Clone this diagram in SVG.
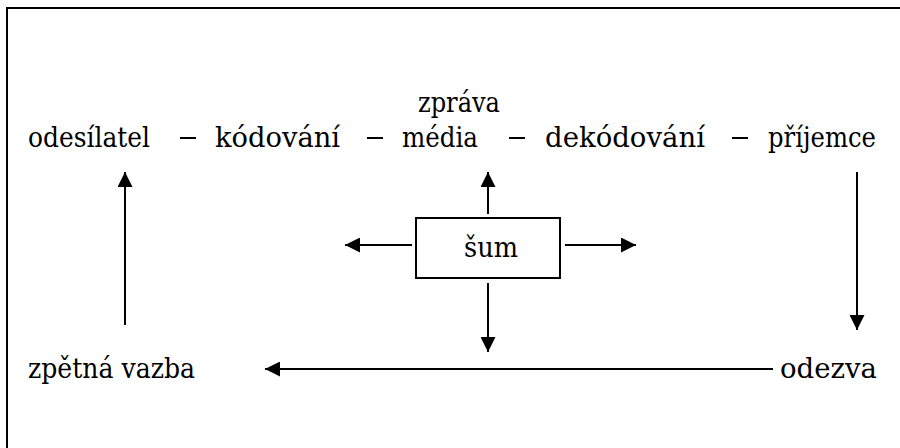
<svg xmlns="http://www.w3.org/2000/svg" width="900" height="448" viewBox="0 0 900 448">
<defs>
<style>
.ln{stroke:#000;stroke-width:2;fill:none}
.t text{font-family:"DejaVu Serif","Liberation Serif",serif;font-size:27px;fill:#000}
</style>
<marker id="ah" viewBox="0 0 10 10" refX="10" refY="5" markerWidth="15" markerHeight="15" markerUnits="userSpaceOnUse" orient="auto">
<path d="M0,0 L10,5 L0,10 z" fill="#000"/>
</marker>
</defs>
<rect width="900" height="448" fill="#fff"/>
<path d="M7,448 V8 H900" class="ln"/>
<g class="t">
<g id="zprava"><text x="418" y="112" textLength="82" lengthAdjust="spacingAndGlyphs">zpráva</text></g>
<g id="odesilatel"><text x="28" y="147" textLength="122" lengthAdjust="spacingAndGlyphs">odesílatel</text></g>
<g id="kodovani"><text x="215" y="147" textLength="125" lengthAdjust="spacingAndGlyphs">kódování</text></g>
<g id="media"><text x="402" y="147" textLength="76" lengthAdjust="spacingAndGlyphs">média</text></g>
<g id="dekodovani"><text x="545" y="147" textLength="160" lengthAdjust="spacingAndGlyphs">dekódování</text></g>
<g id="prijemce"><text x="768" y="147" textLength="108" lengthAdjust="spacingAndGlyphs">příjemce</text></g>
<g id="sum"><rect x="416" y="218" width="144" height="60" class="ln" fill="#fff"/><text x="464" y="257" textLength="54" lengthAdjust="spacingAndGlyphs">šum</text></g>
<g id="zpetna"><text x="28" y="378" textLength="167" lengthAdjust="spacingAndGlyphs">zpětná vazba</text></g>
<g id="odezva"><text x="780" y="378" textLength="97" lengthAdjust="spacingAndGlyphs">odezva</text></g>
</g>
<g id="dashes" class="ln" stroke-width="1.6">
<line x1="180" y1="138" x2="196" y2="138"/>
<line x1="367" y1="138" x2="383" y2="138"/>
<line x1="509" y1="138" x2="525" y2="138"/>
<line x1="732" y1="138" x2="748" y2="138"/>
</g>
<g id="connectors" class="ln" marker-end="url(#ah)">
<line x1="125" y1="325" x2="125" y2="172"/>
<line x1="488" y1="214" x2="488" y2="172"/>
<line x1="857" y1="172" x2="857" y2="330"/>
<line x1="412" y1="245" x2="345" y2="245"/>
<line x1="565" y1="245" x2="636" y2="245"/>
<line x1="488" y1="283" x2="488" y2="352"/>
<line x1="773" y1="369" x2="265" y2="369"/>
</g>
</svg>
